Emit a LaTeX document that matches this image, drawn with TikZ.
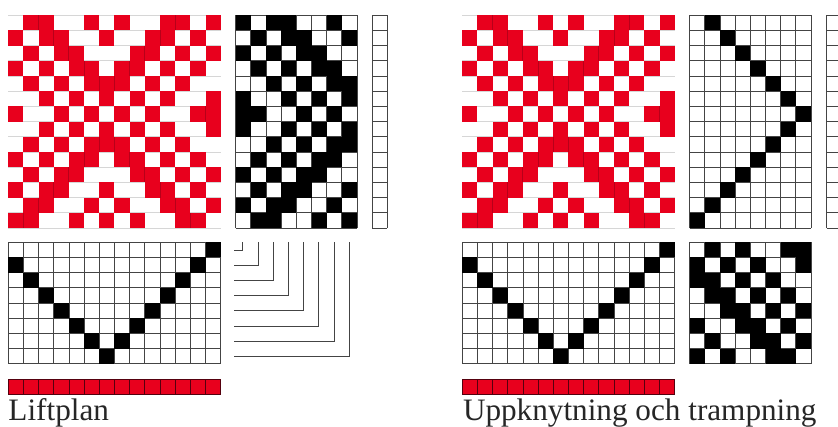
\documentclass[tikz,border=0pt]{standalone}
\usepackage{fontspec}
\setmainfont{Liberation Serif}
\definecolor{weave}{HTML}{E8001D}
\definecolor{seam}{HTML}{B80019}
\definecolor{strip}{HTML}{55000E}
\definecolor{weft}{HTML}{D6D6D6}
\definecolor{gridc}{HTML}{444444}
\def\cx{15.17}
\def\cy{15.2}
\def\lift{{1,0,1,1,0,0,1,0,
0,1,0,1,1,0,0,1,
1,0,1,0,1,1,0,0,
0,1,0,1,0,1,1,0,
0,0,1,0,1,0,1,1,
1,0,0,1,0,1,0,1,
1,1,0,0,1,0,1,0,
1,0,0,1,0,1,0,1,
0,0,1,0,1,0,1,1,
0,1,0,1,0,1,1,0,
1,0,1,0,1,1,0,0,
0,1,0,1,1,0,0,1,
1,0,1,1,0,0,1,0,
0,1,1,0,0,1,0,1}}
\def\thr{{1,2,3,4,5,6,7,6,5,4,3,2,1,0}}
\tikzset{
  gridline/.style={draw=gridc,line width=0.95pt},
  blackcell/.style={fill=black},
  weavecell/.style={fill=weave},
  seamline/.style={draw=seam,line width=1pt},
  weftline/.style={draw=weft,line width=1.1pt},
  stripline/.style={draw=strip,line width=0.95pt},
  caption/.style={anchor=base west,inner sep=0pt,text=black!85,font=\fontsize{31.2}{34}\selectfont},
}
% #1 x, #2 y, #3 cols, #4 rows
\newcommand{\wgrid}[4]{%
  \foreach \i in {0,...,#4}{\draw[gridline] (#1,#2+\i*\cy) -- (#1+#3*\cx,#2+\i*\cy);}
  \foreach \i in {0,...,#3}{\draw[gridline] (#1+\i*\cx,#2) -- (#1+\i*\cx,#2+#4*\cy);}
}
% #1 x, #2 y, #3 col, #4 row
\newcommand{\bcell}[4]{\fill[blackcell] (#1+#3*\cx,#2+#4*\cy) rectangle ++(\cx,\cy);}
% drawdown at #1,#2
\newcommand{\drawdown}[2]{%
  \foreach \r in {0,...,14}{\draw[weftline] (#1,#2+\r*\cy) -- ++(14*\cx,0);}
  \foreach \r in {0,...,13}{
    \foreach \c in {0,...,13}{
      \pgfmathtruncatemacro\v{\lift[8*\r+\thr[\c]]}
      \ifnum\v=1 \fill[weavecell] (#1+\c*\cx,#2+\r*\cy) rectangle ++(\cx,\cy);\fi
    }
  }
  \foreach \r in {0,...,13}{
    \foreach \c in {1,...,13}{
      \pgfmathtruncatemacro\v{\lift[8*\r+\thr[\c]]}
      \pgfmathtruncatemacro\p{\c-1}
      \pgfmathtruncatemacro\u{\lift[8*\r+\thr[\p]]}
      \ifnum\v=1 \ifnum\u=1 \draw[seamline] (#1+\c*\cx,#2+\r*\cy) -- ++(0,\cy);\fi\fi
    }
  }
}
% threading grid at #1,#2
\newcommand{\threading}[2]{%
  \wgrid{#1}{#2}{14}{8}
  \bcell{#1}{#2}{13}{0}
  \foreach \c in {0,...,12}{
    \pgfmathtruncatemacro\s{\thr[\c]}
    \bcell{#1}{#2}{\c}{\s}
  }
}
% red strip
\newcommand{\redstrip}[2]{%
  \fill[weavecell] (#1,#2) rectangle ++(14*\cx,\cy);
  \draw[stripline] (#1,#2) rectangle ++(14*\cx,\cy);
  \foreach \i in {1,...,13}{\draw[stripline] (#1+\i*\cx,#2) -- ++(0,\cy);}
}
\begin{document}
\begin{tikzpicture}[x=1pt,y=-1pt]
\useasboundingbox (0,0) rectangle (838,427);
\clip (0,0) rectangle (838,427);
\fill[white] (0,0) rectangle (838,427);
%% Left: Liftplan
\drawdown{8.3}{15.3}
\wgrid{235.7}{15.3}{8}{14}
\foreach \r in {0,...,13}{
  \foreach \c in {0,...,7}{
    \pgfmathtruncatemacro\v{\lift[8*\r+\c]}
    \ifnum\v=1 \bcell{235.7}{15.3}{\c}{\r}\fi
  }
}
\wgrid{372.3}{15.3}{1}{14}
\threading{8.3}{242.3}
\foreach \k in {1,...,8}{
  \draw[gridline] (234,242.3+\k*\cy-7.4) -| (234+\k*\cx-6.2,242.3);
}
\redstrip{8.3}{379.4}
\node[caption] (liftplan) at (8.3,420.2) {Liftplan};
%% Right: Uppknytning och trampning
\drawdown{462.3}{15.3}
\wgrid{689.7}{15.3}{8}{14}
\foreach \r/\c in {0/1,1/2,2/3,3/4,4/5,5/6,6/7,7/6,8/5,9/4,10/3,11/2,12/1,13/0}{
  \bcell{689.7}{15.3}{\c}{\r}
}
\wgrid{826.7}{15.3}{1}{14}
\threading{462.3}{242.3}
\wgrid{689.7}{242.3}{8}{8}
\foreach \r/\c in {0/1,0/3,0/6,0/7,
  1/0,1/2,1/4,1/7,
  2/0,2/1,2/3,2/5,
  3/1,3/2,3/4,3/6,
  4/2,4/3,4/5,4/7,
  5/0,5/3,5/4,5/6,
  6/1,6/4,6/5,6/7,
  7/0,7/2,7/5,7/6}{
  \bcell{689.7}{242.3}{\c}{\r}
}
\redstrip{462.3}{379.4}
\node[caption] (uppk) at (462.8,420.2) {Uppknytning och trampning};
\end{tikzpicture}
\end{document}
